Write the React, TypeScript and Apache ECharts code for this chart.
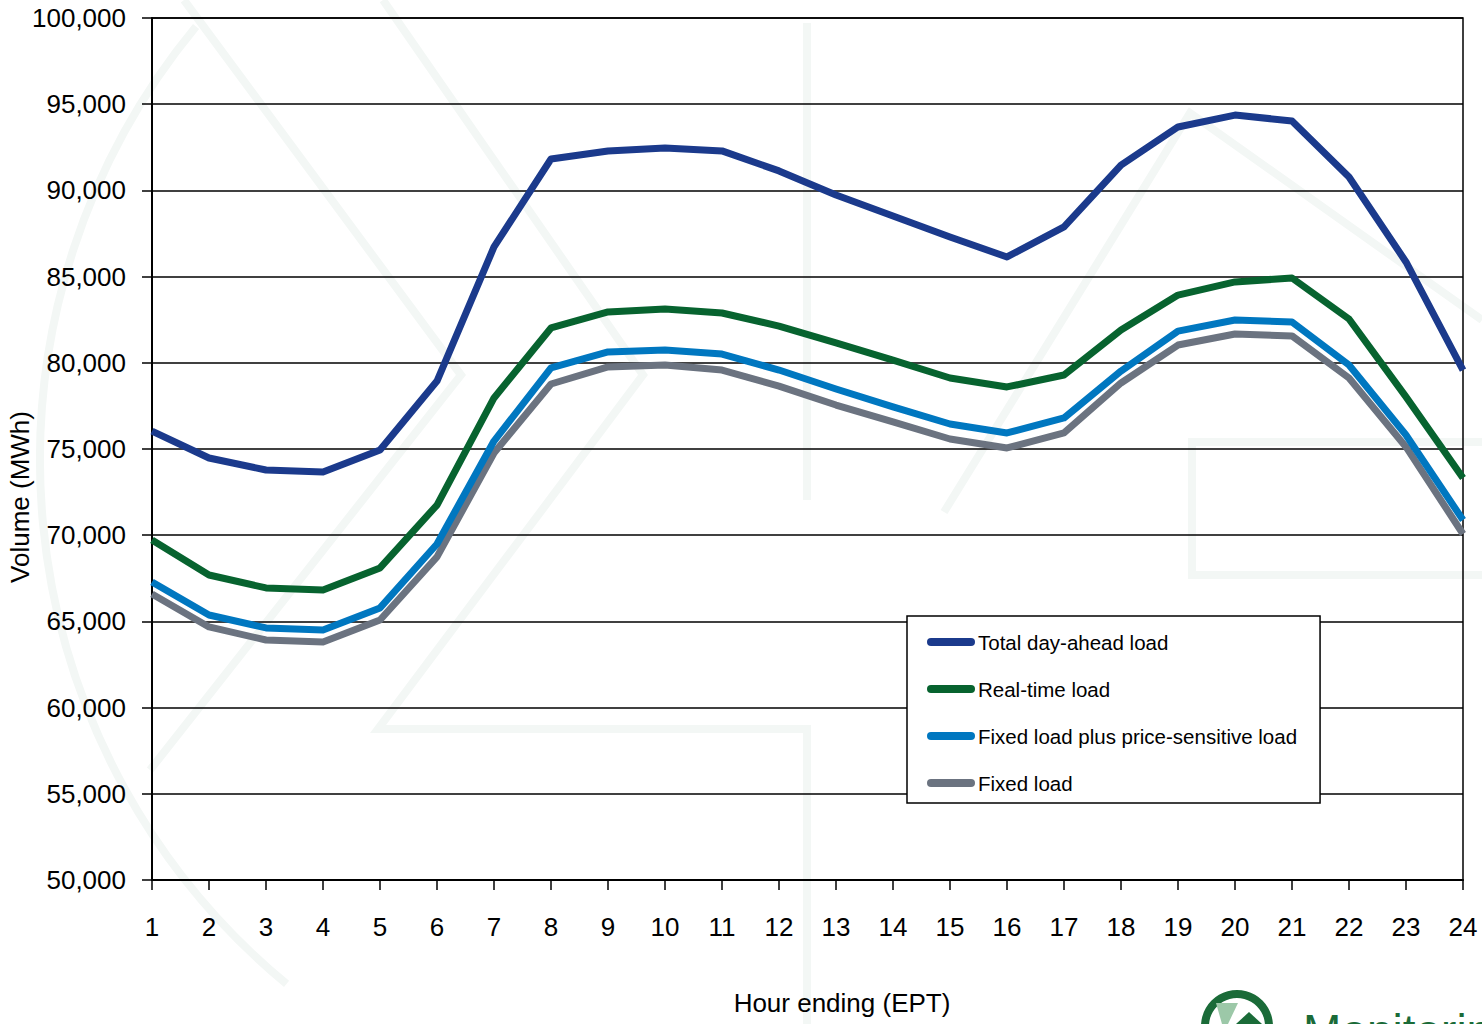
import React, { useEffect, useRef } from "react";
import * as echarts from "echarts";

const hours = ["1","2","3","4","5","6","7","8","9","10","11","12","13","14","15","16","17","18","19","20","21","22","23","24"];
const dayAhead = [76040, 74480, 73780, 73670, 74940, 78940, 86720, 91820, 92290, 92460, 92290, 91130, 89730, 88520, 87300, 86140, 87880, 91470, 93680, 94370, 94030, 90780, 85850, 79580];
const realTime = [69720, 67690, 66940, 66820, 68100, 71750, 77960, 82020, 82950, 83120, 82890, 82130, 81150, 80160, 79120, 78600, 79290, 81900, 83930, 84690, 84920, 82540, 78020, 73320];
const fixedPlusPS = [67290, 65370, 64620, 64500, 65780, 69490, 75460, 79700, 80630, 80740, 80510, 79580, 78480, 77440, 76450, 75930, 76800, 79520, 81840, 82480, 82370, 79870, 75810, 70880];
const fixedLoad = [66590, 64680, 63920, 63800, 65080, 68740, 74770, 78770, 79760, 79870, 79580, 78650, 77550, 76570, 75580, 75060, 75930, 78830, 81030, 81670, 81560, 79120, 75120, 70070];
const seriesNames = ["Total day-ahead load", "Real-time load", "Fixed load plus price-sensitive load", "Fixed load"];
const seriesColors = ["#1B3A8C", "#07632F", "#0077C0", "#6B7380"];

const FONT = "'Liberation Sans', Arial, sans-serif";
const WM = "#f3f7f5";

export default function App() {
  const ref = useRef<HTMLDivElement>(null);
  useEffect(() => {
    if (!ref.current) return;
    const chart = echarts.init(ref.current, null, { renderer: "svg" });
    const dataSets = [dayAhead, realTime, fixedPlusPS, fixedLoad];
    const wmLine = (pts: number[][]) => ({
      type: "polyline", z: -100, silent: true,
      shape: { points: pts },
      style: { stroke: WM, lineWidth: 8, fill: null },
    });
    chart.setOption({
      animation: false,
      backgroundColor: "#ffffff",
      textStyle: { fontFamily: FONT },
      grid: { left: 152, right: 19, top: 18, bottom: 144, show: true, borderColor: "#000", borderWidth: 1.5, backgroundColor: "transparent" },
      xAxis: {
        type: "category",
        data: hours,
        boundaryGap: false,
        axisLine: { lineStyle: { color: "#000", width: 2 } },
        axisTick: { show: true, length: 10, lineStyle: { color: "#000", width: 1.5 } },
        axisLabel: { color: "#000", fontSize: 26, fontFamily: FONT, margin: 34, interval: 0 },
        splitLine: { show: false },
      },
      yAxis: {
        type: "value",
        min: 50000,
        max: 100000,
        interval: 5000,
        axisLine: { show: true, lineStyle: { color: "#000", width: 2 } },
        axisTick: { show: true, length: 10, lineStyle: { color: "#000", width: 1.5 } },
        axisLabel: {
          color: "#000", fontSize: 26, fontFamily: FONT, margin: 26,
          formatter: (v: number) => v.toLocaleString("en-US"),
        },
        splitLine: { show: true, lineStyle: { color: "#000", width: 1.5 } },
      },
      legend: {
        orient: "vertical",
        left: 907,
        top: 616,
        padding: [12, 23, 6, 20],
        backgroundColor: "#fff",
        borderColor: "#000",
        borderWidth: 1.5,
        itemWidth: 48,
        itemHeight: 8,
        itemGap: 19,
        icon: "path://M4,0 L44,0 A4,4 0 0 1 44,8 L4,8 A4,4 0 0 1 4,0 Z",
        textStyle: { color: "#000", fontSize: 20.5, fontFamily: FONT, lineHeight: 28, padding: [0, 0, 0, -2] },
        data: seriesNames,
      },
      series: dataSets.map((d, i) => ({
        name: seriesNames[i],
        type: "line",
        data: d,
        showSymbol: false,
        symbol: "none",
        color: seriesColors[i],
        lineStyle: { color: seriesColors[i], width: 7, join: "round" },
        z: 10 - i,
      })),
      graphic: [
        wmLine([[184, 0], [461, 375], [150, 770]]),
        wmLine([[383, 0], [643, 375], [378, 729], [807, 729], [807, 1024]]),
        wmLine([[807, 23], [807, 500]]),
        wmLine([[944, 512], [1190, 113], [1482, 320]]),
        wmLine([[1482, 442], [1192, 442], [1192, 575], [1482, 575]]),
        {
          type: "arc", z: -100, silent: true,
          shape: { cx: 720, cy: 460, r: 680, startAngle: Math.PI * 0.72, endAngle: Math.PI * 1.22 },
          style: { stroke: WM, lineWidth: 8, fill: null },
        },
        {
          type: "text", silent: true,
          x: 20, y: 497, rotation: Math.PI / 2,
          style: { text: "Volume (MWh)", fontSize: 26, fontFamily: FONT, fill: "#000", align: "center", verticalAlign: "middle" },
        },
        {
          type: "text", silent: true,
          x: 842, y: 1003,
          style: { text: "Hour ending (EPT)", fontSize: 26, fontFamily: FONT, fill: "#000", align: "center", verticalAlign: "middle" },
        },
        {
          type: "ring", silent: true,
          shape: { cx: 1237, cy: 1026, r: 36, r0: 28 },
          style: { fill: "#1A6B38" },
        },
        {
          type: "polygon", silent: true,
          shape: { points: [[1216, 1003], [1238, 1003], [1228, 1024], [1222, 1024]] },
          style: { fill: "#9CC8A8" },
        },
        {
          type: "polygon", silent: true,
          shape: { points: [[1236, 1024], [1249, 1012], [1262, 1024]] },
          style: { fill: "#1A6B38" },
        },
        {
          type: "text", silent: true,
          x: 1303, y: 1008,
          style: { text: "Monitoring", fontSize: 46, fontFamily: FONT, fill: "#1A6B38", align: "left", verticalAlign: "top" },
        },
      ],
    });
    return () => chart.dispose();
  }, []);
  return <div ref={ref} style={{ position: "absolute", left: 0, top: 0, width: 1482, height: 1024 }} />;
}
